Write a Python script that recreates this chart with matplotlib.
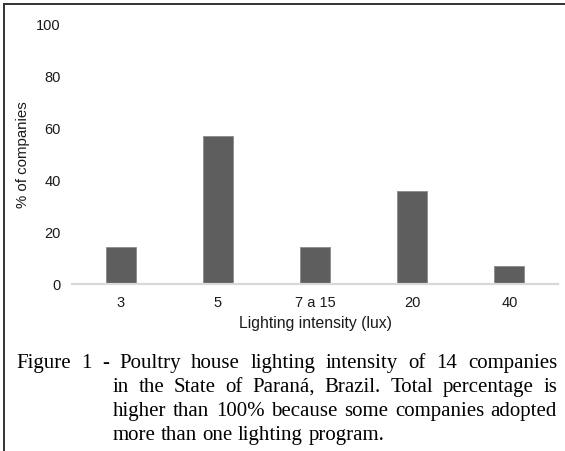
import matplotlib
matplotlib.use("Agg")
import matplotlib.pyplot as plt
from matplotlib.lines import Line2D

# data (percent of 14 companies)
categories = ["3", "5", "7 a 15", "20", "40"]
percent = [14.3, 57.1, 14.3, 35.7, 7.1]
y_ticks = [0, 20, 40, 60, 80, 100]

caption_lines = [
    "Figure 1 - Poultry house lighting intensity of 14 companies",
    "in the State of Paraná, Brazil. Total percentage is",
    "higher than 100% because some companies adopted",
    "more than one lighting program.",
]

W, H = 565, 452
fig = plt.figure(figsize=(W / 100, H / 100), dpi=100)
ax = fig.add_axes([72 / W, 1 - 285 / H, 486 / W, 260 / H])

x = range(len(categories))
ax.bar(x, percent, width=0.31, color="#5e5e5e", edgecolor="#8a8a8a", linewidth=0.6, zorder=2)
ax.set_xlim(-0.5, len(categories) - 0.5)
ax.set_ylim(0, 100)
ax.set_xticks(list(x))
ax.set_xticklabels(categories)
ax.set_yticks(y_ticks)
for s in ["top", "right", "left"]:
    ax.spines[s].set_visible(False)
ax.spines["bottom"].set_color("#d9d9d9")
ax.spines["bottom"].set_linewidth(1.6)
ax.tick_params(length=0, labelsize=10.5, colors="#1a1a1a")
ax.tick_params(axis="y", pad=8)
ax.tick_params(axis="x", pad=8)
for lab in ax.get_xticklabels() + ax.get_yticklabels():
    lab.set_family("Liberation Sans")
ax.text(315 / W, 1 - 324 / H, "Lighting intensity (lux)", transform=fig.transFigure,
        ha="center", va="center", fontsize=11.3, family="Liberation Sans", color="#1a1a1a")
ax.text(23 / W, 1 - 155 / H, "% of companies", transform=fig.transFigure,
        rotation=90, ha="center", va="center", fontsize=10.8,
        family="Liberation Sans", color="#1a1a1a")

# frame lines of the figure box
fig.add_artist(Line2D([3.5 / W, 3.5 / W], [0, 1 - 5 / H], transform=fig.transFigure,
                      color="#333333", lw=1.4))
fig.add_artist(Line2D([3.5 / W, 1], [1 - 5 / H, 1 - 5 / H], transform=fig.transFigure,
                      color="#333333", lw=1.4))

# justified caption, word by word
renderer = fig.canvas.get_renderer()
cap_kw = dict(fontsize=15.0, family="Liberation Serif", color="black",
              va="baseline", ha="left", transform=None)
right_px = 557
line_y = [368, 392, 416, 440]
for i, line in enumerate(caption_lines):
    left_px = 16 if i == 0 else 113
    words = line.split(" ")
    texts = [fig.text(0, 0, w, **cap_kw) for w in words]
    widths = [t.get_window_extent(renderer).width for t in texts]
    if i < len(caption_lines) - 1:
        gap = (right_px - left_px - sum(widths)) / (len(words) - 1)
    else:
        sp = fig.text(0, 0, "a a", **cap_kw)
        sa = fig.text(0, 0, "aa", **cap_kw)
        gap = sp.get_window_extent(renderer).width - sa.get_window_extent(renderer).width
        sp.remove()
        sa.remove()
    xp = left_px
    for t, w in zip(texts, widths):
        t.set_position((xp, H - line_y[i]))
        xp += w + gap

fig.savefig("out.png", dpi=100)
